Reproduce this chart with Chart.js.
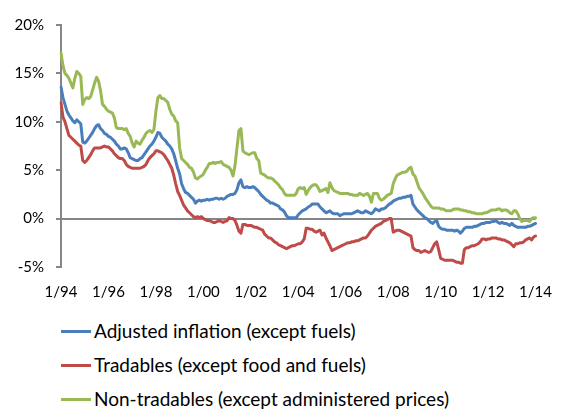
<!DOCTYPE html>
<html>
<head>
<meta charset="utf-8">
<script src="https://cdn.jsdelivr.net/npm/chart.js@4.4.0/dist/chart.umd.min.js"></script>
<style>
	body { margin: 0; background: #fff; }
	#wrap { position: relative; width: 568px; height: 410px; overflow: hidden; }
	#chart { position: absolute; left: 0; top: 0; }
	.item { position: absolute; left: 61px; height: 22px; font-family: Lato, sans-serif; font-size: 19px; color: #000; white-space: nowrap; }
	.item span.swatch { position: absolute; left: 0; top: 10px; width: 30px; height: 3px; }
	.item span.text { position: absolute; left: 33px; top: 0; line-height: 22px; }
</style>
</head>
<body>
<div id="wrap">
	<canvas id="chart" width="568" height="310"></canvas>
	<div id="legend"></div>
</div>
<script>
// monthly data, 1/94 .. 1/14
var tickLabels = ["1/94", "1/96", "1/98", "1/00", "1/02", "1/04", "1/06", "1/08", "1/10", "1/12", "1/14"];
var seriesNames = [
	"Adjusted inflation (except fuels)",
	"Tradables (except food and fuels)",
	"Non-tradables (except administered prices)"
];
var seriesColors = ["#4a7ebb", "#be4b48", "#98b954"];

var adjusted = [
	13.6, 12.5, 11.8, 11.1, 10.7, 10.4, 10.1, 9.9, 10.2, 10.0, 9.8, 7.9,
	7.8, 8.0, 8.3, 8.6, 8.9, 9.3, 9.6, 9.7, 9.3, 9.1, 8.8, 8.7,
	8.5, 8.4, 8.2, 8.0, 7.7, 7.5, 7.2, 7.2, 7.3, 7.2, 6.8, 6.3,
	6.2, 6.1, 6.0, 6.0, 6.2, 6.3, 6.6, 6.9, 7.2, 7.5, 7.7, 8.0,
	8.4, 8.9, 8.8, 8.4, 8.2, 8.0, 7.7, 7.5, 7.2, 6.7, 6.0, 5.2,
	4.6, 3.6, 3.1, 2.7, 2.6, 2.4, 2.2, 2.0, 1.6, 1.8, 1.9, 1.8,
	1.9, 1.9, 2.0, 1.9, 2.0, 2.0, 2.1, 2.1, 2.0, 2.1, 2.0, 2.1,
	2.3, 2.4, 2.5, 2.5, 2.6, 3.0, 3.7, 4.0, 3.3, 3.2, 3.3, 3.2,
	3.2, 3.3, 3.2, 3.0, 2.8, 2.5, 2.3, 2.1, 1.9, 1.8, 1.6, 1.6,
	1.5, 1.4, 1.3, 1.0, 0.9, 0.7, 0.3, 0.1, 0.1, 0.1, 0.1, 0.1,
	0.4, 0.6, 0.8, 0.9, 1.0, 1.2, 1.3, 1.5, 1.5, 1.5, 1.5, 1.2,
	1.0, 0.8, 0.6, 0.7, 0.8, 0.6, 0.5, 0.5, 0.5, 0.3, 0.4, 0.5,
	0.5, 0.5, 0.5, 0.5, 0.6, 0.7, 0.8, 0.7, 0.6, 0.6, 0.8, 0.7,
	0.6, 0.5, 0.7, 1.0, 0.9, 0.8, 1.0, 1.0, 1.1, 1.3, 1.5, 1.6,
	1.8, 1.9, 2.0, 2.1, 2.1, 2.2, 2.2, 2.3, 2.3, 2.4, 1.5, 1.2,
	0.9, 0.7, 0.5, 0.3, 0.1, 0.0, -0.2, -0.4, -0.5, -0.3, -0.2, -0.8,
	-1.0, -1.1, -1.1, -1.2, -1.2, -1.2, -1.2, -1.3, -1.2, -1.3, -1.5, -1.3,
	-1.0, -0.9, -0.9, -0.9, -0.9, -0.8, -0.8, -0.7, -0.6, -0.5, -0.5, -0.4,
	-0.4, -0.4, -0.3, -0.3, -0.2, -0.4, -0.5, -0.4, -0.5, -0.5, -0.6, -0.7,
	-0.5, -0.7, -0.8, -0.9, -0.9, -0.9, -0.9, -0.9, -0.8, -0.8, -0.7, -0.6,
	-0.5
];

var tradables = [
	12.0, 10.5, 10.0, 9.3, 8.6, 8.4, 8.2, 8.0, 7.8, 7.6, 7.5, 6.0,
	5.8, 6.0, 6.3, 6.6, 7.0, 7.3, 7.3, 7.3, 7.3, 7.4, 7.5, 7.4,
	7.4, 7.2, 7.0, 6.7, 6.5, 6.3, 6.2, 6.2, 6.0, 5.6, 5.4, 5.3,
	5.2, 5.2, 5.2, 5.2, 5.2, 5.3, 5.4, 5.6, 6.0, 6.3, 6.5, 6.7,
	7.0, 7.0, 6.9, 6.8, 6.6, 6.3, 6.0, 5.6, 5.2, 4.5, 3.6, 2.8,
	2.4, 1.9, 1.4, 1.1, 0.8, 0.6, 0.4, 0.2, 0.1, 0.2, 0.1, 0.2,
	0.0, -0.1, -0.2, -0.2, -0.3, -0.4, -0.4, -0.3, -0.2, -0.3, -0.4, -0.3,
	-0.2, 0.1, 0.0, 0.0, -0.2, -0.7, -1.3, -1.5, -0.6, -0.6, -0.7, -0.7,
	-0.7, -0.8, -0.9, -0.9, -1.0, -1.1, -1.2, -1.6, -1.8, -2.0, -2.0, -2.2,
	-2.4, -2.5, -2.7, -2.8, -2.9, -3.0, -3.1, -3.0, -2.9, -2.8, -2.8, -2.7,
	-2.6, -2.6, -2.4, -2.1, -1.0, -1.0, -1.1, -1.1, -1.3, -1.4, -1.3, -1.2,
	-1.7, -1.5, -2.0, -2.4, -2.8, -3.3, -3.2, -3.1, -3.0, -2.9, -2.8, -2.7,
	-2.6, -2.5, -2.5, -2.4, -2.4, -2.3, -2.3, -2.2, -2.1, -2.0, -2.0, -1.8,
	-1.5, -1.2, -1.0, -0.8, -0.7, -0.6, -0.5, -0.3, -0.2, -0.1, 0.0, 0.0,
	-1.4, -1.3, -1.2, -1.2, -1.3, -1.4, -1.5, -1.6, -1.7, -1.8, -3.0, -3.2,
	-3.3, -3.3, -3.5, -3.4, -3.3, -3.4, -3.5, -3.4, -3.0, -2.6, -2.4, -3.2,
	-4.1, -4.2, -4.3, -4.3, -4.3, -4.3, -4.3, -4.4, -4.5, -4.5, -4.6, -4.6,
	-3.2, -3.0, -3.0, -2.9, -2.8, -2.8, -2.7, -2.6, -2.4, -2.1, -2.1, -2.2,
	-2.1, -2.1, -2.0, -2.0, -2.0, -2.1, -2.1, -2.2, -2.2, -2.3, -2.4, -2.5,
	-2.7, -2.9, -2.6, -2.6, -2.5, -2.5, -2.4, -2.2, -2.1, -2.0, -2.2, -1.9,
	-1.8
];

var nonTradables = [
	17.1, 15.8, 15.0, 14.8, 14.5, 14.0, 13.5, 14.5, 15.2, 15.0, 14.7, 11.8,
	12.3, 12.5, 12.4, 12.6, 13.3, 14.0, 14.6, 14.2, 13.2, 11.8, 11.6, 11.3,
	11.1, 11.0, 10.9, 10.4, 9.4, 9.3, 9.3, 9.3, 9.2, 9.3, 8.8, 8.5,
	7.8, 7.4, 8.0, 7.8, 7.7, 8.1, 8.4, 8.8, 9.0, 9.1, 8.9, 9.2,
	11.1, 12.5, 12.7, 12.4, 12.4, 12.2, 12.0, 11.3, 10.8, 10.6, 10.1, 9.9,
	7.3, 6.2, 6.0, 5.8, 5.6, 5.3, 5.2, 4.8, 4.2, 4.1, 4.3, 4.4,
	4.6, 5.0, 5.3, 5.7, 5.7, 5.8, 5.7, 5.8, 5.8, 5.9, 5.6, 5.5,
	5.4, 5.3, 5.0, 4.4, 5.5, 7.3, 9.1, 9.3, 7.0, 6.8, 6.7, 6.6,
	6.7, 6.8, 6.8, 6.2, 6.0, 4.7, 4.6, 4.5, 4.3, 4.2, 4.2, 4.1,
	3.9, 3.7, 3.5, 3.2, 3.0, 2.6, 2.4, 2.4, 2.4, 2.4, 2.4, 2.6,
	3.1, 3.2, 3.1, 3.2, 2.5, 2.9, 3.2, 3.4, 3.5, 3.5, 3.2, 2.8,
	2.9, 3.0, 3.1, 2.7, 3.7, 3.2, 2.9, 2.8, 2.7, 2.6, 2.6, 2.6,
	2.6, 2.6, 2.5, 2.5, 2.4, 2.4, 2.4, 2.6, 2.5, 2.4, 2.5, 2.6,
	2.3, 1.7, 2.6, 2.6, 2.6, 2.1, 1.9, 2.0, 2.2, 2.4, 2.5, 2.6,
	3.6, 4.1, 4.5, 4.6, 4.7, 4.8, 4.8, 4.9, 5.2, 5.3, 4.6, 4.4,
	3.8, 3.2, 2.9, 2.6, 2.2, 1.9, 1.6, 1.3, 1.1, 1.1, 1.1, 1.1,
	1.0, 1.0, 0.9, 0.8, 0.8, 0.8, 0.9, 1.0, 1.0, 1.0, 0.9, 0.9,
	0.8, 0.8, 0.7, 0.7, 0.6, 0.6, 0.5, 0.5, 0.5, 0.5, 0.6, 0.6,
	0.7, 0.8, 0.9, 0.9, 0.9, 1.0, 1.0, 0.8, 0.9, 0.9, 0.8, 0.6,
	0.5, 0.8, 0.8, 0.5, 0.0, -0.3, -0.2, -0.2, -0.2, -0.3, 0.0, 0.1,
	0.1
];

// month labels m/yy
var months = [];
for (var y = 1994; y <= 2014; y++) {
	for (var m = 1; m <= 12; m++) {
		if (months.length < adjusted.length) {
			months.push(m + "/" + String(y).slice(2));
		}
	}
}

var axisGray = "#868686";
var tickFont = { family: "Lato, sans-serif", size: 15 };

var ctx = document.getElementById("chart").getContext("2d");
var myChart = new Chart(ctx, {
	type: "line",
	data: {
		labels: months,
		datasets: [
			{ label: seriesNames[0], data: adjusted, borderColor: seriesColors[0], order: 3 },
			{ label: seriesNames[1], data: tradables, borderColor: seriesColors[1], order: 2 },
			{ label: seriesNames[2], data: nonTradables, borderColor: seriesColors[2], order: 1 },
		],
	},
	options: {
		responsive: false,
		animation: false,
		elements: {
			point: { radius: 0 },
			line: { borderWidth: 3, tension: 0, fill: false, borderCapStyle: "round", borderJoinStyle: "round" },
		},
		layout: { padding: { top: 25, right: 20, bottom: 0, left: 0 } },
		plugins: {
			legend: { display: false },
			tooltip: { enabled: false },
		},
		scales: {
			x: {
				offset: false,
				border: { display: false },
				grid: { display: false, drawTicks: false },
				ticks: {
					autoSkip: false,
					maxRotation: 0,
					padding: 16,
					color: "#000",
					font: tickFont,
					callback: function (val, i) {
						return i % 24 === 0 ? tickLabels[i / 24] : null;
					},
				},
				afterFit: function (scale) {
					scale.height = 43;
				},
			},
			y: {
				min: -5,
				max: 20,
				border: { display: true, color: axisGray, width: 2 },
				grid: {
					drawOnChartArea: true,
					color: function (c) {
						return c.tick && c.tick.value === 0 ? axisGray : "rgba(0,0,0,0)";
					},
					lineWidth: 2,
					tickColor: axisGray,
					tickLength: 5,
				},
				ticks: {
					stepSize: 5,
					padding: 12,
					color: "#000",
					font: tickFont,
					callback: function (v) {
						return v + "%";
					},
				},
				afterFit: function (scale) {
					scale.width = 61;
				},
			},
		},
	},
});

// legend below the chart, one row per series
var legend = document.getElementById("legend");
var rowTops = [320, 354, 388];
for (var i = 0; i < seriesNames.length; i++) {
	var row = document.createElement("div");
	row.className = "item";
	row.style.top = rowTops[i] + "px";
	row.innerHTML = '<span class="swatch" style="background:' + seriesColors[i] + '"></span><span class="text">' + seriesNames[i] + "</span>";
	legend.appendChild(row);
}
</script>
</body>
</html>
